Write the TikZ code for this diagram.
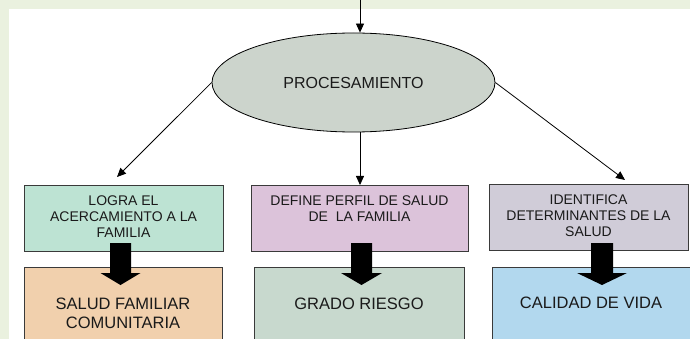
\documentclass[tikz,border=0pt]{standalone}
\usepackage{fontspec}
\setmainfont{Liberation Sans}
\usetikzlibrary{arrows.meta,shapes.geometric}
\definecolor{bggreen}{HTML}{EAF1DF}
\definecolor{boxline}{HTML}{3A3A3A}
\definecolor{cmint}{HTML}{BDE3D3}
\definecolor{clilac}{HTML}{DCC3DA}
\definecolor{cgrey}{HTML}{D0CCD8}
\definecolor{cpeach}{HTML}{F1D0AD}
\definecolor{csage}{HTML}{C8D9CE}
\definecolor{cblue}{HTML}{B2D8EE}
\definecolor{cell}{HTML}{CCD4CC}
\definecolor{ctext}{HTML}{1A1A1A}
\begin{document}
\begin{tikzpicture}[x=1pt,y=-1pt,
  box/.style={draw=boxline, line width=0.9pt, inner sep=0pt, anchor=north west},
  smalltxt/.style={text=ctext, align=center, inner sep=0pt, font=\fontsize{14}{16}\selectfont},
  bigtxt/.style={text=ctext, align=center, inner sep=0pt, font=\fontsize{16.5}{19}\selectfont},
  conn/.style={draw=black, line width=0.8pt, -{Triangle[length=9pt,width=8pt]}},
  blockarr/.style={fill=black}]
\useasboundingbox (0,0) rectangle (690,339);
\fill[bggreen] (0,0) rectangle (690,339);
\fill[white] (9,9) rectangle (690,339);

% ellipse
\node[ellipse, draw=black, line width=0.8pt, fill=cell, minimum width=283pt, minimum height=99pt, inner sep=0pt,
      text=ctext, font=\fontsize{16}{19}\selectfont] (proc) at (353.5,82.5) {PROCESAMIENTO};

% first row boxes
\node[box, fill=cmint, minimum width=199pt, minimum height=66pt] (b1) at (24,185) {};
\node[box, fill=clilac, minimum width=217pt, minimum height=66pt] (b2) at (251,185) {};
\node[box, fill=cgrey, minimum width=199pt, minimum height=66pt] (b3) at (489,184) {};

% second row boxes
\node[box, fill=cpeach, minimum width=198pt, minimum height=100pt] (b4) at (24,267) {};
\node[box, fill=csage, minimum width=210pt, minimum height=100pt] (b5) at (254,267) {};
\node[box, fill=cblue, minimum width=200pt, minimum height=100pt] (b6) at (492,267) {};

% texts
\node[smalltxt] (t1) at (123.5,217) {LOGRA EL\\ACERCAMIENTO A LA\\FAMILIA};
\node[smalltxt] (t2) at (359.5,209) {DEFINE PERFIL DE SALUD\\DE\ \ LA FAMILIA};
\node[smalltxt] (t3) at (588.5,216) {IDENTIFICA\\DETERMINANTES DE LA\\SALUD};
\node[bigtxt] (t4) at (123,313.5) {SALUD FAMILIAR\\COMUNITARIA};
\node[bigtxt] (t5) at (359,303.5) {GRADO RIESGO};
\node[bigtxt] (t6) at (591,303) {CALIDAD DE VIDA};

% block arrows
\fill[blockarr] (110,243) -- (131,243) -- (131,273) -- (140.5,273) -- (120.5,285) -- (100.5,273) -- (110,273) -- cycle;
\fill[blockarr] (351,243) -- (372,243) -- (372,273) -- (382,273) -- (361.5,285) -- (341,273) -- (351,273) -- cycle;
\fill[blockarr] (591,243) -- (613,243) -- (613,273) -- (627,273) -- (602,285) -- (577,273) -- (591,273) -- cycle;

% connectors
\coordinate (top) at (360,-1);
\coordinate (e1) at (117,177);
\coordinate (e3) at (625,180);
\draw[conn] (top) -- (top |- proc.north);
\draw[conn] (proc.west) -- (e1);
\draw[conn] (proc.south -| top) -- (top |- b2.north);
\draw[conn] (proc.east) -- (e3);
\end{tikzpicture}
\end{document}
